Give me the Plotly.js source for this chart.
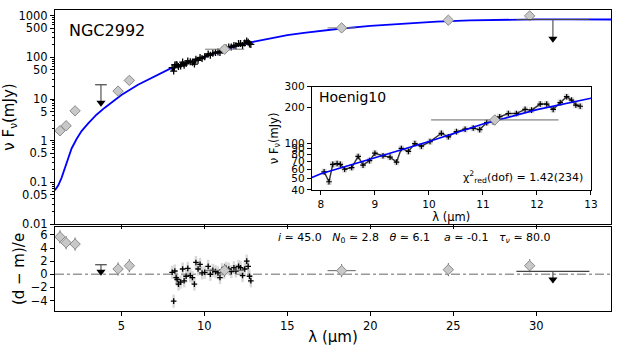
<!DOCTYPE html>
<html lang="en">

<head>
    <meta charset="UTF-8">
    <title>NGC2992 SED</title>
    <script src="https://cdn.plot.ly/plotly-3.0.1.min.js"></script>
    <style>
        body {
            margin: 0;
            padding: 0;
            background: white;
        }

        #plot {
            width: 623px;
            height: 346px;
        }
    </style>
</head>

<body>
    <div id="plot"></div>

    <script>
        // model SED (blue curve)
        const modelLam = [1.0, 1.2, 1.4, 1.6, 1.8, 2.0, 2.3, 2.6, 3.0, 3.5, 4.0, 5, 6, 7, 8, 9, 10, 11, 12, 13, 14, 15, 16, 18, 20, 22, 24, 26, 28, 30, 32, 34.5];
        const modelFlux = [0.065, 0.085, 0.13, 0.22, 0.38, 0.65, 1.1, 1.7, 2.6, 4.2, 6.2, 12.5, 22, 35, 55, 75, 103, 145, 192, 240, 290, 340, 385, 480, 570, 640, 720, 770, 805, 820, 820, 810];

        // Hoenig10 spectrum
        const specLam = [8.06, 8.15, 8.22, 8.30, 8.36, 8.44, 8.57, 8.69, 8.78, 8.90, 9.00, 9.15, 9.28, 9.40, 9.49, 9.62, 9.74, 9.86, 10.02, 10.23, 10.36, 10.51, 10.67, 10.82, 10.94, 11.07, 11.19, 11.31, 11.47, 11.62, 11.78, 11.90, 12.06, 12.18, 12.30, 12.43, 12.55, 12.64, 12.72, 12.80];
        const specFlux = [57, 47, 66, 67, 66, 60, 62, 77, 65, 71, 82, 78, 76, 69, 90, 85, 99, 94, 103, 121, 113, 125, 131, 134, 130, 149, 152, 167, 178, 178, 193, 190, 214, 214, 193, 220, 247, 231, 210, 205];
        const specResid = [0.3, -4.1, 0.5, -0.5, -0.8, -1.5, -1.2, 0.8, -1.0, -0.3, 0.9, -0.2, -0.5, -1.5, 1.8, 0.8, 1.5, 0.2, 0.3, 1.2, 0.0, 0.6, 0.4, 0.2, -0.5, 0.7, 0.3, 0.9, 0.8, 0.4, 1.0, 0.5, 1.2, 1.0, -0.2, 0.8, 2.0, 1.2, -0.3, -1.0];

        // photometry
        const photLam = [1.30, 1.67, 2.21, 4.80, 5.48, 11.22, 18.27, 24.7, 29.6];
        const photFlux = [1.73, 2.28, 5.2, 15.5, 28, 157, 510, 780, 990];
        const photXerr = [0, 0, 0, 0, 0, 1.18, 0.85, 0, 0];
        const photResid = [5.7, 4.8, 4.6, 0.8, 1.3, 0.6, 0.55, 0.7, 1.3];

        // upper limits
        const ulLam = [3.77, 31.0];
        const ulXerr = [0.35, 2.2];
        const ulFlux = [22, 810];
        const ulTip = [8.1, 280];
        const ulResid = [1.45, 0.43];
        const ulResidTip = [0.4, -0.8];

        const chi2 = '1.42(234)';

        const font = 'DejaVu Sans, sans-serif';
        const diamond = {symbol: 'diamond', size: 8, color: '#c8c8c8', line: {color: '#8a8a8a', width: 1}};
        const arrowHead = {symbol: 'triangle-down', size: 8, color: 'black'};

        function arrowLines(lam, top, tip, xa, ya) {
            // vertical stems of the upper-limit arrows, one segment per limit
            const x = [], y = [];
            lam.forEach((l, i) => {
                x.push(l, l, null);
                y.push(top[i], tip[i], null);
            });
            return {x, y, type: 'scatter', mode: 'lines', line: {color: '#555', width: 1.2}, xaxis: xa, yaxis: ya, hoverinfo: 'skip'};
        }

        const traces = [
            // ---- main panel ----
            {
                x: modelLam, y: modelFlux, type: 'scatter', mode: 'lines',
                line: {color: '#0000ff', width: 1.8}, xaxis: 'x', yaxis: 'y'
            },
            {
                x: specLam, y: specFlux, type: 'scatter', mode: 'lines+markers',
                line: {color: 'black', width: 2.2},
                marker: {symbol: 'cross-thin', size: 5, color: 'black', line: {color: 'black', width: 1.3}},
                xaxis: 'x', yaxis: 'y'
            },
            {
                x: photLam, y: photFlux, type: 'scatter', mode: 'markers',
                error_y: {type: 'percent', value: 20, color: '#777', thickness: 1, width: 0},
                error_x: {type: 'data', array: photXerr, color: '#777', thickness: 1, width: 0},
                marker: diamond, xaxis: 'x', yaxis: 'y'
            },
            {
                x: ulLam, y: ulFlux, type: 'scatter', mode: 'markers',
                marker: {size: 1, color: 'rgba(0,0,0,0)'},
                error_x: {type: 'data', array: ulXerr, color: '#444', thickness: 1.2, width: 0},
                xaxis: 'x', yaxis: 'y'
            },
            arrowLines(ulLam, ulFlux, ulTip, 'x', 'y'),
            {
                x: ulLam, y: ulTip, type: 'scatter', mode: 'markers',
                marker: arrowHead, xaxis: 'x', yaxis: 'y'
            },

            // ---- residual panel ----
            {
                x: specLam, y: specResid, type: 'scatter', mode: 'markers',
                error_y: {type: 'constant', value: 1, color: 'rgba(170,170,170,0.45)', thickness: 2.5, width: 0},
                marker: {symbol: 'cross-thin', size: 4, color: 'black', line: {color: 'black', width: 1.3}},
                xaxis: 'x2', yaxis: 'y2'
            },
            {
                x: photLam, y: photResid, type: 'scatter', mode: 'markers',
                error_y: {type: 'constant', value: 1, color: '#666', thickness: 1, width: 0},
                error_x: {type: 'data', array: photXerr, color: '#666', thickness: 1, width: 0},
                marker: diamond, xaxis: 'x2', yaxis: 'y2'
            },
            {
                x: ulLam, y: ulResid, type: 'scatter', mode: 'markers',
                marker: {size: 1, color: 'rgba(0,0,0,0)'},
                error_x: {type: 'data', array: ulXerr, color: '#444', thickness: 1.2, width: 0},
                xaxis: 'x2', yaxis: 'y2'
            },
            arrowLines(ulLam, ulResid, ulResidTip, 'x2', 'y2'),
            {
                x: ulLam, y: ulResidTip, type: 'scatter', mode: 'markers',
                marker: arrowHead, xaxis: 'x2', yaxis: 'y2'
            },

            // ---- inset ----
            {
                x: specLam, y: specFlux, type: 'scatter', mode: 'lines+markers',
                line: {color: '#333', width: 1.4},
                error_y: {type: 'percent', value: 6, color: 'rgba(170,170,170,0.5)', thickness: 5, width: 0},
                marker: {symbol: 'cross-thin', size: 4, color: 'black', line: {color: 'black', width: 1.2}},
                xaxis: 'x3', yaxis: 'y3'
            },
            {
                x: modelLam, y: modelFlux, type: 'scatter', mode: 'lines',
                line: {color: '#0000ff', width: 1.6}, xaxis: 'x3', yaxis: 'y3'
            },
            {
                x: photLam, y: photFlux, type: 'scatter', mode: 'markers',
                error_y: {type: 'percent', value: 10, color: '#666', thickness: 1, width: 0},
                error_x: {type: 'data', array: photXerr, color: '#666', thickness: 1, width: 0},
                marker: diamond, xaxis: 'x3', yaxis: 'y3'
            }
        ];

        // minor ticks on the log axes
        function minorTicks(lo, hi) {
            const v = [];
            for (let d = lo; d < hi; d++) {
                for (let k = 2; k <= 9; k++) {
                    if (k !== 5) v.push(k * Math.pow(10, d));
                }
            }
            return v;
        }

        const axisBase = {
            showline: true, linecolor: 'black', linewidth: 1, mirror: true,
            showgrid: false, zeroline: false, ticks: 'outside', ticklen: 4,
            tickcolor: 'black', tickfont: {family: font, size: 11.5, color: 'black'}
        };

        const mainTicks = [0.01, 0.05, 0.1, 0.5, 1, 5, 10, 50, 100, 500, 1000];
        const insetTicks = [40, 50, 60, 70, 80, 90, 100, 200, 300];

        const layout = {
            width: 623,
            height: 346,
            margin: {l: 55, r: 12, t: 10, b: 35},
            paper_bgcolor: 'white',
            plot_bgcolor: 'white',
            showlegend: false,
            font: {family: font, color: 'black'},
            xaxis: Object.assign({}, axisBase, {
                domain: [0, 1], anchor: 'y', range: [1, 34.5],
                tickmode: 'array', tickvals: [5, 10, 15, 20, 25, 30], showticklabels: false
            }),
            yaxis: Object.assign({}, axisBase, {
                domain: [0.289, 1], anchor: 'x', type: 'log', range: [-2, 3.137],
                tickmode: 'array', tickvals: mainTicks, ticktext: mainTicks.map(String),
                minor: {tickmode: 'array', tickvals: minorTicks(-2, 3), ticks: 'outside', ticklen: 2, tickcolor: 'black'},
                title: {text: 'ν F<sub>ν</sub>(mJy)', font: {family: font, size: 15}, standoff: 8}
            }),
            xaxis2: Object.assign({}, axisBase, {
                domain: [0, 1], anchor: 'y2', range: [1, 34.5],
                tickmode: 'array', tickvals: [5, 10, 15, 20, 25, 30],
                title: {text: 'λ (μm)', font: {family: font, size: 15}, standoff: 2}
            }),
            yaxis2: Object.assign({}, axisBase, {
                domain: [0, 0.279], anchor: 'x2', range: [-5.6, 7.2],
                tickmode: 'array', tickvals: [-4, -2, 0, 2, 4, 6],
                ticktext: ['−4', '−2', '0', '2', '4', '6'],
                title: {text: '(d − m)/e', font: {family: font, size: 15}, standoff: 2}
            }),
            xaxis3: Object.assign({}, axisBase, {
                domain: [0.4617, 0.964], anchor: 'y3', range: [7.83, 13],
                tickmode: 'array', tickvals: [8, 9, 10, 11, 12, 13],
                tickfont: {family: font, size: 10.5},
                title: {text: 'λ (μm)', font: {family: font, size: 11.5}, standoff: 1}
            }),
            yaxis3: Object.assign({}, axisBase, {
                domain: [0.402, 0.745], anchor: 'x3', type: 'log',
                range: [Math.log10(40), Math.log10(300)],
                tickmode: 'array', tickvals: insetTicks, ticktext: insetTicks.map(String),
                tickfont: {family: font, size: 10.5},
                title: {text: 'ν F<sub>ν</sub>(mJy)', font: {family: font, size: 11.5}, standoff: 3}
            }),
            shapes: [
                {
                    type: 'line', xref: 'x2 domain', yref: 'y2', x0: 0, x1: 1, y0: 0, y1: 0,
                    line: {color: '#999', width: 1.5, dash: 'dashdot'}, layer: 'below'
                }
            ],
            annotations: [
                {
                    text: 'NGC2992', xref: 'x domain', yref: 'y domain', x: 0.022, y: 0.905,
                    xanchor: 'left', yanchor: 'middle', showarrow: false,
                    font: {family: font, size: 16, color: 'black'}
                },
                {
                    text: 'Hoenig10', xref: 'x3 domain', yref: 'y3 domain', x: 0.02, y: 0.9,
                    xanchor: 'left', yanchor: 'middle', showarrow: false,
                    font: {family: font, size: 14, color: 'black'}
                },
                {
                    text: 'χ<sup>2</sup><sub>red</sub>(dof) = ' + chi2, xref: 'x3 domain', yref: 'y3 domain',
                    x: 0.98, y: 0.13, xanchor: 'right', yanchor: 'middle', showarrow: false,
                    font: {family: font, size: 11, color: 'black'}
                },
                {
                    text: '<i>i</i> ≃ 45.0\u00a0\u00a0\u00a0<i>N</i><sub>0</sub> ≃ 2.8\u00a0\u00a0\u00a0<i>θ</i> ≃ 6.1\u00a0\u00a0\u00a0\u00a0<i>a</i> ≃ -0.1\u00a0\u00a0\u00a0<i>τ</i><sub><i>ν</i></sub> ≃ 80.0',
                    xref: 'x2 domain', yref: 'y2 domain', x: 0.398, y: 0.87,
                    xanchor: 'left', yanchor: 'middle', showarrow: false,
                    font: {family: font, size: 11, color: 'black'}
                }
            ]
        };

        Plotly.newPlot('plot', traces, layout, {displayModeBar: false, staticPlot: true});
    </script>
</body>

</html>
